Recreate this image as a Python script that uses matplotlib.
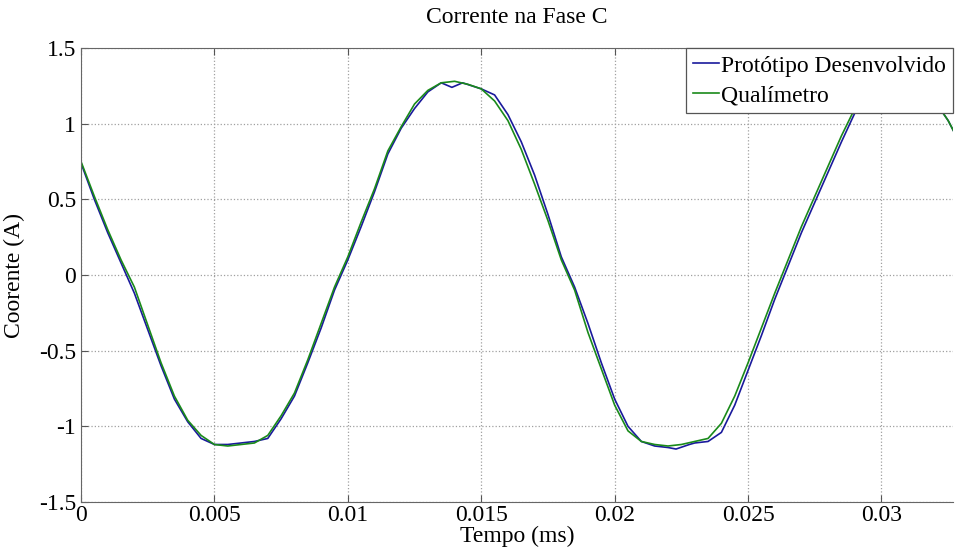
import matplotlib.pyplot as plt

plt.rcParams['font.family'] = ['Liberation Serif', 'DejaVu Serif']
plt.rcParams['axes.unicode_minus'] = False

# green curve (Qualimetro)
t_qual = [0, 0.0005, 0.001, 0.0015, 0.002, 0.0025, 0.003, 0.0035, 0.004, 0.0045,
          0.005, 0.0055, 0.006, 0.0065, 0.007, 0.0075, 0.008, 0.0085, 0.009, 0.0095,
          0.010, 0.0105, 0.011, 0.0115, 0.012, 0.0125, 0.013, 0.0135, 0.014, 0.0145,
          0.015, 0.0155, 0.016, 0.0165, 0.017, 0.0175, 0.018, 0.0185, 0.019, 0.0195,
          0.020, 0.0205, 0.021, 0.0215, 0.022, 0.0225, 0.023, 0.0235, 0.024, 0.0245,
          0.025, 0.0255, 0.026, 0.0265, 0.027, 0.0275, 0.028, 0.0285, 0.029, 0.0295,
          0.030, 0.0305, 0.031, 0.0315, 0.032, 0.0325, 0.033]
i_qual = [0.75, 0.52, 0.30, 0.10, -0.08, -0.33, -0.58, -0.80, -0.96, -1.06,
          -1.12, -1.13, -1.12, -1.11, -1.06, -0.93, -0.78, -0.56, -0.32, -0.08,
          0.12, 0.35, 0.57, 0.82, 0.98, 1.13, 1.22, 1.27, 1.28, 1.26,
          1.23, 1.15, 1.02, 0.83, 0.60, 0.36, 0.10, -0.10, -0.38, -0.62,
          -0.86, -1.03, -1.10, -1.12, -1.13, -1.12, -1.10, -1.08, -0.98, -0.80,
          -0.58, -0.35, -0.12, 0.10, 0.32, 0.52, 0.72, 0.92, 1.10, 1.22,
          1.27, 1.28, 1.26, 1.23, 1.15, 1.02, 0.85]

# blue curve (prototipo)
t_prot = [0, 0.0005, 0.001, 0.0015, 0.002, 0.0025, 0.003, 0.0035, 0.004, 0.0045,
          0.005, 0.0055, 0.006, 0.0065, 0.007, 0.0075, 0.008, 0.0085, 0.009, 0.0095,
          0.010, 0.0105, 0.011, 0.0115, 0.012, 0.0125, 0.013, 0.0135, 0.0139, 0.0143,
          0.015, 0.0155, 0.016, 0.0165, 0.017, 0.0175, 0.018, 0.0185, 0.019, 0.0195,
          0.020, 0.0205, 0.021, 0.0215, 0.022, 0.0223, 0.0228, 0.023, 0.0235, 0.024,
          0.0245, 0.025, 0.0255, 0.026, 0.0265, 0.027, 0.0275, 0.028, 0.0285, 0.029,
          0.0295, 0.030, 0.0305, 0.031, 0.0315, 0.032, 0.0325, 0.033]
i_prot = [0.74, 0.50, 0.28, 0.08, -0.12, -0.36, -0.60, -0.82, -0.97, -1.08,
          -1.12, -1.12, -1.11, -1.10, -1.08, -0.95, -0.80, -0.58, -0.35, -0.10,
          0.10, 0.32, 0.55, 0.80, 0.97, 1.10, 1.21, 1.27, 1.24, 1.27,
          1.23, 1.19, 1.06, 0.88, 0.66, 0.40, 0.12, -0.08, -0.32, -0.58,
          -0.82, -1.00, -1.10, -1.13, -1.14, -1.15, -1.12, -1.11, -1.10, -1.04,
          -0.86, -0.63, -0.40, -0.16, 0.06, 0.28, 0.48, 0.68, 0.88, 1.07,
          1.21, 1.27, 1.28, 1.26, 1.23, 1.15, 1.02, 0.85]

xticks = [0, 0.005, 0.01, 0.015, 0.02, 0.025, 0.03]
xtick_labels = ['0', '0.005', '0.01', '0.015', '0.02', '0.025', '0.03']
yticks = [-1.5, -1, -0.5, 0, 0.5, 1, 1.5]
ytick_labels = ['-1.5', '-1', '-0.5', '0', '0.5', '1', '1.5']

fig = plt.figure(figsize=(9.55, 5.55), dpi=100)
ax = fig.add_axes([81 / 955, 1 - 502 / 555, (953 - 81) / 955, (502 - 48) / 555])

ax.plot(t_prot, i_prot, color='#1a1a9c', lw=1.2, label='Protótipo Desenvolvido')
ax.plot(t_qual, i_qual, color='#1a8a1a', lw=1.2, label='Qualímetro')

ax.set_xlim(0, 0.03268)
ax.set_ylim(-1.5, 1.5)
ax.set_xticks(xticks)
ax.set_xticklabels(xtick_labels)
ax.set_yticks(yticks)
ax.set_yticklabels(ytick_labels)
ax.tick_params(direction='in', length=5, labelsize=17, top=True, color='#555555')
ax.tick_params(axis='x', pad=2)
ax.grid(True, linestyle=':', color='#a0a0a0', lw=0.9)
ax.spines['right'].set_visible(False)
for s in ['left', 'bottom', 'top']:
    ax.spines[s].set_color('#666666')

ax.set_title('Corrente na Fase C', fontsize=17, pad=18)
ax.set_xlabel('Tempo (ms)', fontsize=17, labelpad=0)
ax.set_ylabel('Coorente (A)', fontsize=17, labelpad=10)

leg = ax.legend(loc='upper left', bbox_to_anchor=(686 / 955, 1 - 48 / 555),
                bbox_transform=fig.transFigure, fontsize=17, fancybox=False,
                framealpha=1, edgecolor='#555555', borderpad=0.3,
                labelspacing=0.35, handlelength=1.1, handletextpad=0.1,
                borderaxespad=0)
leg.get_frame().set_linewidth(0.9)

fig.savefig('out.png', dpi=100)
